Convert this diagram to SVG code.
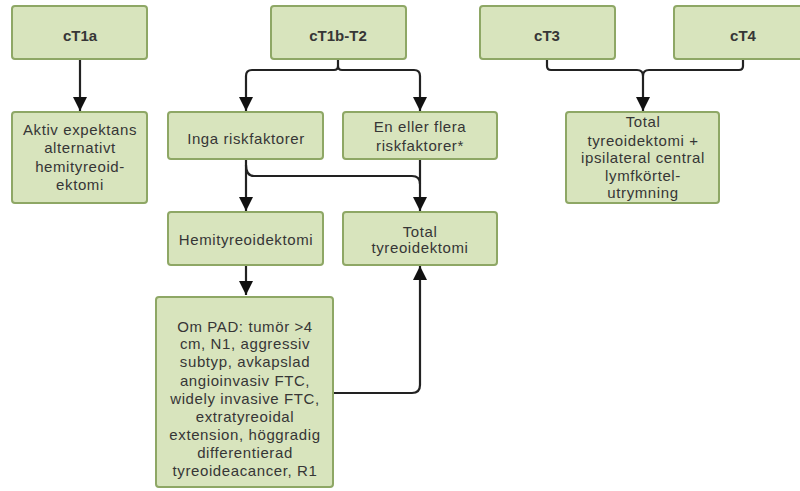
<svg xmlns="http://www.w3.org/2000/svg" width="800" height="491" viewBox="0 0 800 491">
<defs>
<style>
.box{fill:#d8e4bd;stroke:#8ea765;stroke-width:2}
.t{font-family:"Liberation Sans",Arial,sans-serif;font-size:15px;letter-spacing:0.6px;fill:#363636;text-anchor:middle}
.b{font-weight:bold;letter-spacing:0}
.c{fill:none;stroke:#222;stroke-width:2.2}
</style>
<marker id="ah" viewBox="0 0 10 10" refX="10" refY="5" markerWidth="6.5" markerHeight="6.5" markerUnits="strokeWidth" orient="auto">
<path d="M0,0 L10,5 L0,10 z" fill="#111"/>
</marker>
</defs>
<rect width="800" height="491" fill="#fff"/>
<g id="connectors">
<path class="c" d="M80,59 V111" marker-end="url(#ah)"/>
<path class="c" d="M338,59 V66 Q338,70 334,70 H252 Q246,70 246,76 V111" marker-end="url(#ah)"/>
<path class="c" d="M338,66 Q338,70 342,70 H414 Q420,70 420,76 V111" marker-end="url(#ah)"/>
<path class="c" d="M246,159 V211" marker-end="url(#ah)"/>
<path class="c" d="M246,165 Q246,176 254,176 H412 Q420,176 420,184"/>
<path class="c" d="M420,159 V211" marker-end="url(#ah)"/>
<path class="c" d="M246,265 V295" marker-end="url(#ah)"/>
<path class="c" d="M333,393 H412 Q420,393 420,385 V266" marker-end="url(#ah)"/>
<path class="c" d="M547,59 V66 Q547,70 551,70 H637 Q643,70 643,76 V111" marker-end="url(#ah)"/>
<path class="c" d="M743,59 V66 Q743,70 739,70 H649 Q643,70 643,76"/>
</g>
<g id="cT1a"><rect class="box" x="12" y="6" width="135" height="53" rx="3"/><text class="t b" x="80" y="41">cT1a</text></g>
<g id="cT1bT2"><rect class="box" x="271" y="6" width="135" height="53" rx="3"/><text class="t b" x="338" y="41">cT1b-T2</text></g>
<g id="cT3"><rect class="box" x="480" y="6" width="135" height="53" rx="3"/><text class="t b" x="547" y="41">cT3</text></g>
<g id="cT4"><rect class="box" x="674" y="6" width="138" height="53" rx="3"/><text class="t b" x="743" y="41">cT4</text></g>
<g id="aktiv"><rect class="box" x="12" y="112" width="135" height="91" rx="3"/>
<text class="t"><tspan x="80" y="135">Aktiv expektans</tspan><tspan x="80" y="153">alternativt</tspan><tspan x="80" y="172">hemityreoid-</tspan><tspan x="80" y="190">ektomi</tspan></text></g>
<g id="inga"><rect class="box" x="168" y="112" width="155" height="47" rx="3"/><text class="t" x="246" y="144">Inga riskfaktorer</text></g>
<g id="enellerflera"><rect class="box" x="343" y="112" width="154" height="47" rx="3"/>
<text class="t"><tspan x="420" y="132">En eller flera</tspan><tspan x="420" y="151">riskfaktorer*</tspan></text></g>
<g id="total4"><rect class="box" x="566" y="112" width="153" height="91" rx="3"/>
<text class="t"><tspan x="643" y="127">Total</tspan><tspan x="643" y="146">tyreoidektomi +</tspan><tspan x="643" y="163">ipsilateral central</tspan><tspan x="643" y="181">lymfkörtel-</tspan><tspan x="643" y="198">utrymning</tspan></text></g>
<g id="hemi"><rect class="box" x="168" y="212" width="155" height="53" rx="3"/><text class="t" x="246" y="245">Hemityreoidektomi</text></g>
<g id="total"><rect class="box" x="343" y="212" width="154" height="53" rx="3"/>
<text class="t"><tspan x="420" y="237">Total</tspan><tspan x="420" y="253">tyreoidektomi</tspan></text></g>
<g id="ompad"><rect class="box" x="156" y="297" width="177" height="190" rx="3"/>
<text class="t"><tspan x="245" y="332">Om PAD: tumör &gt;4</tspan><tspan x="245" y="349">cm, N1, aggressiv</tspan><tspan x="245" y="367">subtyp, avkapslad</tspan><tspan x="245" y="386">angioinvasiv FTC,</tspan><tspan x="245" y="404">widely invasive FTC,</tspan><tspan x="245" y="422">extratyreoidal</tspan><tspan x="245" y="440">extension, höggradig</tspan><tspan x="245" y="458">differentierad</tspan><tspan x="245" y="476">tyreoideacancer, R1</tspan></text></g>
</svg>
